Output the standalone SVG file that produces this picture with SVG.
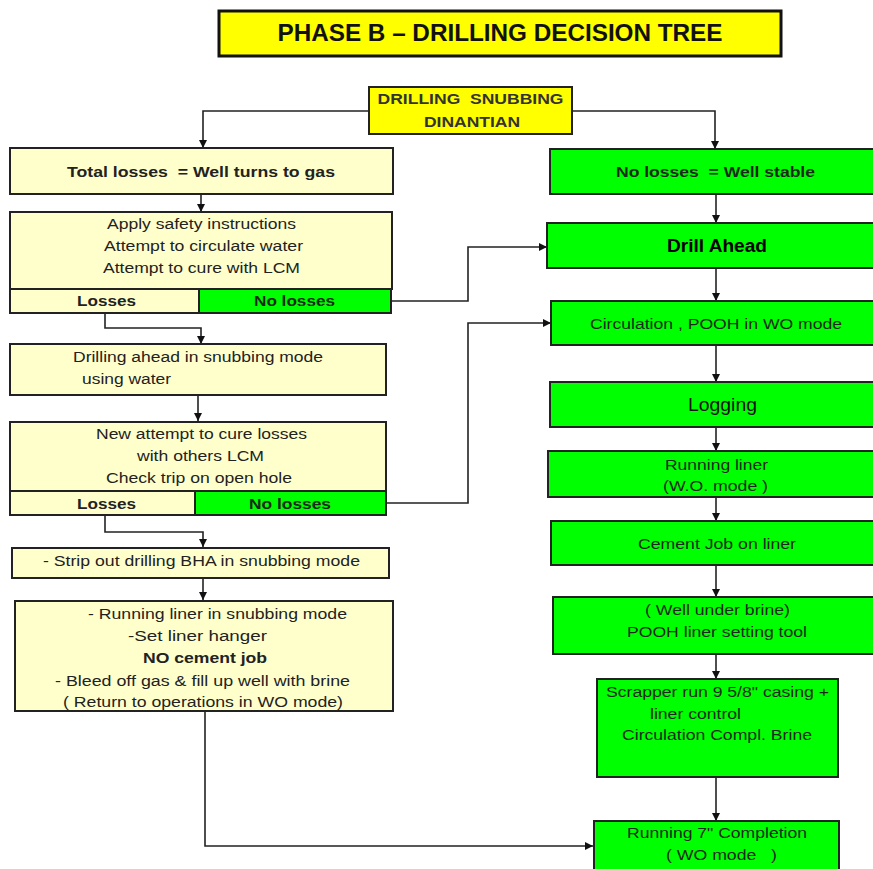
<svg xmlns="http://www.w3.org/2000/svg" width="873" height="869" viewBox="0 0 873 869">
<defs>
<marker id="arr" viewBox="0 0 10 10" refX="10" refY="5" markerWidth="8" markerHeight="8" markerUnits="userSpaceOnUse" orient="auto">
<path d="M0,0 L10,5 L0,10 z" fill="#111"/>
</marker>
</defs>
<style>
text{font-family:"Liberation Sans",Arial,sans-serif;font-size:15.5px;fill:#222;text-anchor:middle;white-space:pre}
.b{font-weight:bold}
.y{fill:#FFFFCC;stroke:#222;stroke-width:2}
.g{fill:#00FF00;stroke:#222;stroke-width:2}
.gt{fill:#1a2a1a}
.c{fill:none;stroke:#222;stroke-width:1.6;marker-end:url(#arr)}
.l{text-anchor:start}
</style>
<rect width="873" height="869" fill="#fff"/>

<g id="title">
<rect x="219" y="11" width="562" height="45" fill="#FFFF00" stroke="#111" stroke-width="3"/>
<text x="500" y="41" class="b" style="font-size:23px;fill:#111" textLength="445" lengthAdjust="spacingAndGlyphs">PHASE B – DRILLING DECISION TREE</text>
</g>

<g id="connectors">
<path class="c" d="M368,111 H203 V148"/>
<path class="c" d="M572,111 H715 V149"/>
<path class="c" d="M201,194 V212"/>
<path class="c" d="M105,313 V328 H201 V344"/>
<path class="c" d="M390,301 H468 V247 H547"/>
<path class="c" d="M198,395 V421"/>
<path class="c" d="M386,503 H468 V323 H551"/>
<path class="c" d="M105,516 V532 H203 V547"/>
<path class="c" d="M203,578 V600"/>
<path class="c" d="M205,711 V846 H593"/>
<path class="c" d="M716,194 V223"/>
<path class="c" d="M716,268 V301"/>
<path class="c" d="M716,345 V382"/>
<path class="c" d="M716,427 V451"/>
<path class="c" d="M716,497 V521"/>
<path class="c" d="M716,565 V597"/>
<path class="c" d="M716,654 V679"/>
<path class="c" d="M716,777 V821"/>
</g>

<g id="start">
<rect x="369" y="87" width="203" height="47" fill="#FFFF00" stroke="#222" stroke-width="2"/>
<text x="470.5" y="104" class="b" style="font-size:14.5px;fill:#333" textLength="186" lengthAdjust="spacingAndGlyphs">DRILLING  SNUBBING</text>
<text x="472" y="127" class="b" style="font-size:14.5px;fill:#333" textLength="96" lengthAdjust="spacingAndGlyphs">DINANTIAN</text>
</g>

<g id="total-losses">
<rect x="10" y="148" width="383" height="46" class="y"/>
<text x="201" y="177" class="b" textLength="268" lengthAdjust="spacingAndGlyphs">Total losses  = Well turns to gas</text>
</g>

<g id="apply-safety">
<rect x="10" y="212" width="382" height="77" class="y"/>
<rect x="10" y="289" width="189" height="24" class="y"/>
<rect x="199" y="289" width="192" height="24" class="g"/>
<text x="201.5" y="229" textLength="189" lengthAdjust="spacingAndGlyphs">Apply safety instructions</text>
<text x="203.5" y="251" textLength="199" lengthAdjust="spacingAndGlyphs">Attempt to circulate water</text>
<text x="201.5" y="273" textLength="197" lengthAdjust="spacingAndGlyphs">Attempt to cure with LCM</text>
<text x="106.5" y="306" class="b" textLength="59" lengthAdjust="spacingAndGlyphs">Losses</text>
<text x="294.5" y="306" class="b gt" textLength="81" lengthAdjust="spacingAndGlyphs">No losses</text>
</g>

<g id="drilling-ahead">
<rect x="10" y="344" width="376" height="51" class="y"/>
<text x="198" y="362" textLength="250" lengthAdjust="spacingAndGlyphs">Drilling ahead in snubbing mode</text>
<text x="82" y="384" class="l" textLength="89" lengthAdjust="spacingAndGlyphs">using water</text>
</g>

<g id="new-attempt">
<rect x="10" y="422" width="376" height="69" class="y"/>
<rect x="10" y="491" width="185" height="24" class="y"/>
<rect x="195" y="491" width="191" height="24" class="g"/>
<text x="201.5" y="439" textLength="211" lengthAdjust="spacingAndGlyphs">New attempt to cure losses</text>
<text x="200.5" y="461" textLength="127" lengthAdjust="spacingAndGlyphs">with others LCM</text>
<text x="199" y="483" textLength="186" lengthAdjust="spacingAndGlyphs">Check trip on open hole</text>
<text x="106.5" y="509" class="b" textLength="59" lengthAdjust="spacingAndGlyphs">Losses</text>
<text x="290" y="509" class="b gt" textLength="82" lengthAdjust="spacingAndGlyphs">No losses</text>
</g>

<g id="strip-out">
<rect x="12" y="548" width="377" height="30" class="y"/>
<text x="201.5" y="566" textLength="317" lengthAdjust="spacingAndGlyphs">- Strip out drilling BHA in snubbing mode</text>
</g>

<g id="running-liner-snubbing">
<rect x="15" y="601" width="378" height="110" class="y"/>
<text x="88" y="619" class="l" textLength="259" lengthAdjust="spacingAndGlyphs">- Running liner in snubbing mode</text>
<text x="128" y="641" class="l" textLength="139" lengthAdjust="spacingAndGlyphs">-Set liner hanger</text>
<text x="143" y="663" class="l b" textLength="124" lengthAdjust="spacingAndGlyphs">NO cement job</text>
<text x="55" y="686" class="l" textLength="295" lengthAdjust="spacingAndGlyphs">- Bleed off gas &amp; fill up well with brine</text>
<text x="63" y="707" class="l" textLength="280" lengthAdjust="spacingAndGlyphs">( Return to operations in WO mode)</text>
</g>

<g id="no-losses">
<rect x="550" y="149" width="330" height="45" class="g"/>
<text x="715.5" y="177" class="b gt" textLength="199" lengthAdjust="spacingAndGlyphs">No losses  = Well stable</text>
</g>

<g id="drill-ahead">
<rect x="547" y="223" width="333" height="45" class="g"/>
<text x="717" y="252" class="b" style="font-size:17.5px;fill:#000" textLength="100" lengthAdjust="spacingAndGlyphs">Drill Ahead</text>
</g>

<g id="circulation">
<rect x="551" y="301" width="329" height="44" class="g"/>
<text x="716" y="329" class="gt" textLength="252" lengthAdjust="spacingAndGlyphs">Circulation , POOH in WO mode</text>
</g>

<g id="logging">
<rect x="550" y="382" width="330" height="45" class="g"/>
<text x="722.5" y="411" style="font-size:18px;fill:#111" textLength="69" lengthAdjust="spacingAndGlyphs">Logging</text>
</g>

<g id="running-liner">
<rect x="548" y="451" width="332" height="46" class="g"/>
<text x="716.5" y="470" class="gt" textLength="103" lengthAdjust="spacingAndGlyphs">Running liner</text>
<text x="715.5" y="491" class="gt" textLength="105" lengthAdjust="spacingAndGlyphs">(W.O. mode )</text>
</g>

<g id="cement-job">
<rect x="551" y="521" width="329" height="44" class="g"/>
<text x="717" y="549" class="gt" textLength="158" lengthAdjust="spacingAndGlyphs">Cement Job on liner</text>
</g>

<g id="well-under-brine">
<rect x="553" y="597" width="327" height="57" class="g"/>
<text x="717.5" y="615" class="gt" textLength="145" lengthAdjust="spacingAndGlyphs">( Well under brine)</text>
<text x="717" y="637" class="gt" textLength="180" lengthAdjust="spacingAndGlyphs">POOH liner setting tool</text>
</g>

<g id="scrapper">
<rect x="597" y="679" width="241" height="98" class="g"/>
<text x="606" y="697" class="l gt" textLength="223" lengthAdjust="spacingAndGlyphs">Scrapper run 9 5/8" casing +</text>
<text x="650" y="719" class="l gt" textLength="91" lengthAdjust="spacingAndGlyphs">liner control</text>
<text x="622" y="740" class="l gt" textLength="190" lengthAdjust="spacingAndGlyphs">Circulation Compl. Brine</text>
</g>

<g id="running-completion">
<rect x="594" y="821" width="245" height="60" class="g"/>
<text x="627" y="838" class="l gt" textLength="180" lengthAdjust="spacingAndGlyphs">Running 7" Completion</text>
<text x="666" y="860" class="l gt" textLength="111" lengthAdjust="spacingAndGlyphs">( WO mode   )</text>
</g>
</svg>
